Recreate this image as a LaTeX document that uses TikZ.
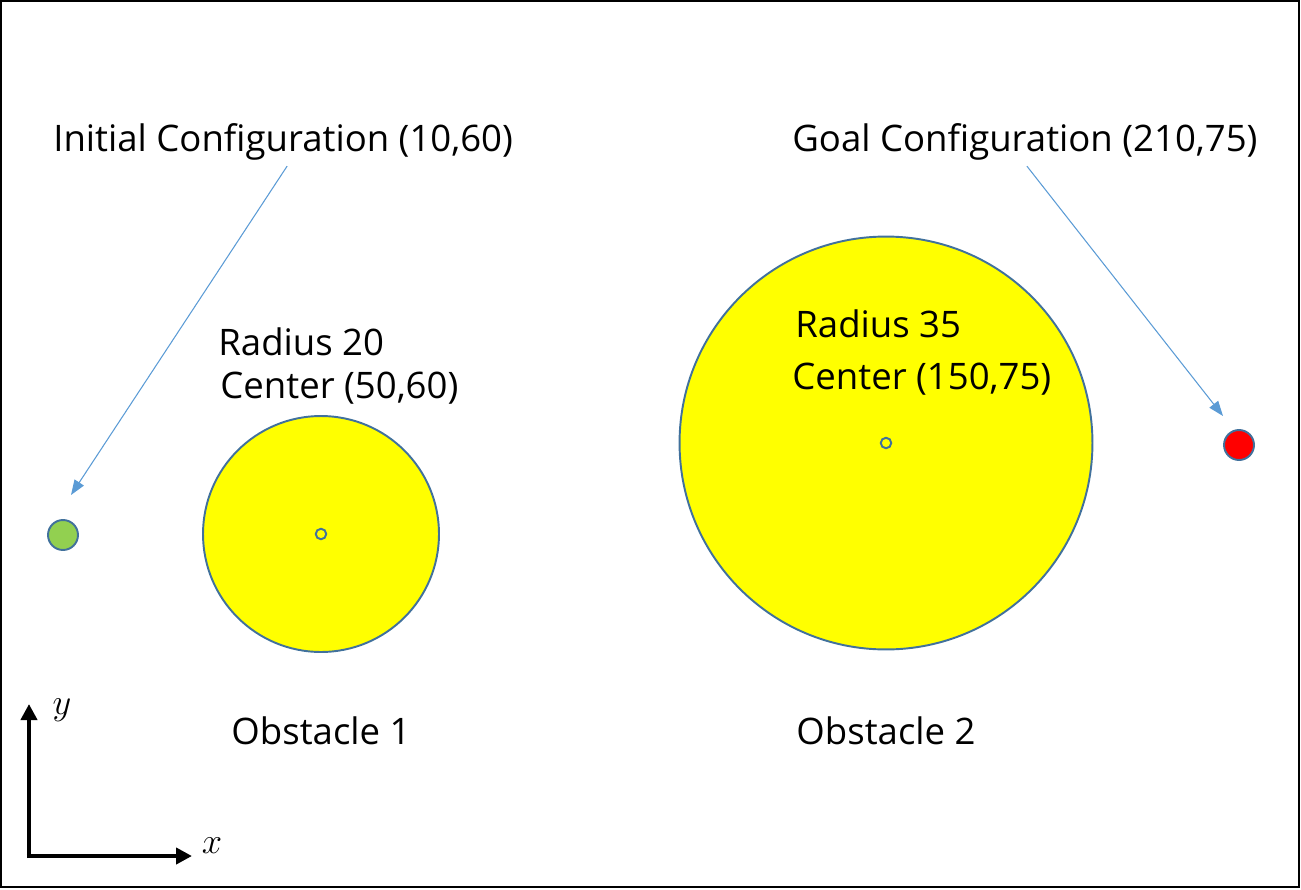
\documentclass[tikz,border=0pt]{standalone}
\usepackage{fontspec}
\setmainfont{Open Sans}
\usetikzlibrary{arrows.meta}

\definecolor{borde}{HTML}{41719C}
\definecolor{flecha}{HTML}{5B9BD5}
\definecolor{verde}{HTML}{92D050}
\definecolor{amarillo}{HTML}{FFFF00}

\begin{document}
\begin{tikzpicture}[x=0.02cm,y=-0.02cm,
    etiqueta/.style={font=\fontsize{20.8}{25}\selectfont,inner sep=0pt},
    obstaculo/.style={circle,draw=borde,line width=1.1pt,fill=amarillo,inner sep=0pt},
    centro/.style={circle,draw=borde,line width=1.1pt,minimum size=0.21cm,inner sep=0pt},
    punto/.style={circle,draw=borde,line width=1.1pt,minimum size=0.6cm,inner sep=0pt},
    guia/.style={flecha,line width=0.6pt,-{Triangle[length=0.3cm,width=0.22cm]}},
    eje/.style={line width=2.4pt,-{Triangle[length=0.32cm,width=0.32cm]}}]

    % Marco
    \useasboundingbox (0,0) rectangle (1301,889);
    \draw[line width=1.2pt] (1,1) rectangle (1299,887);

    % Obstaculos
    \node[obstaculo,minimum size=4.72cm] (obs1) at (321,534) {};
    \node[obstaculo,minimum size=8.26cm] (obs2) at (886,443) {};
    \node[centro] (c1) at (321,534) {};
    \node[centro] (c2) at (886,443) {};

    % Configuraciones
    \node[punto,fill=verde] (inicio) at (63,535) {};
    \node[punto,fill=red] (meta) at (1239,445) {};

    % Textos
    \node[etiqueta,anchor=base west] (tinicio) at (53,151) {Initial Configuration (10,60)};
    \node[etiqueta,anchor=base west] (tmeta) at (792,151) {Goal Configuration (210,75)};
    \node[etiqueta,anchor=base west] (r1) at (218,355) {Radius 20};
    \node[etiqueta,anchor=base west] (cen1) at (220,398) {Center (50,60)};
    \node[etiqueta,anchor=base west] (r2) at (795,337) {Radius 35};
    \node[etiqueta,anchor=base west] (cen2) at (792,389) {Center (150,75)};
    \node[etiqueta,anchor=base] (n1) at (321,744) {Obstacle 1};
    \node[etiqueta,anchor=base] (n2) at (886,744) {Obstacle 2};

    % Flechas
    \coordinate (finicio) at (71,495);
    \coordinate (fmeta) at (1223,416);
    \draw[guia] ([xshift=0.08cm,yshift=-0.12cm]tinicio.south) -- (finicio);
    \draw[guia] ([xshift=0.04cm,yshift=-0.12cm]tmeta.south) -- (fmeta);

    % Ejes
    \coordinate (origen) at (29,856);
    \coordinate (ejey) at (29,704);
    \coordinate (ejex) at (192,856);
    \draw[eje] ([yshift=-1.2pt]origen) -- (ejey);
    \draw[eje] ([xshift=-1.2pt]origen) -- (ejex);
    \node[font=\fontsize{22}{26}\selectfont] (ly) at (62,710) {$y$};
    \node[font=\fontsize{22}{26}\selectfont] (lx) at (212,846) {$x$};

\end{tikzpicture}
\end{document}
